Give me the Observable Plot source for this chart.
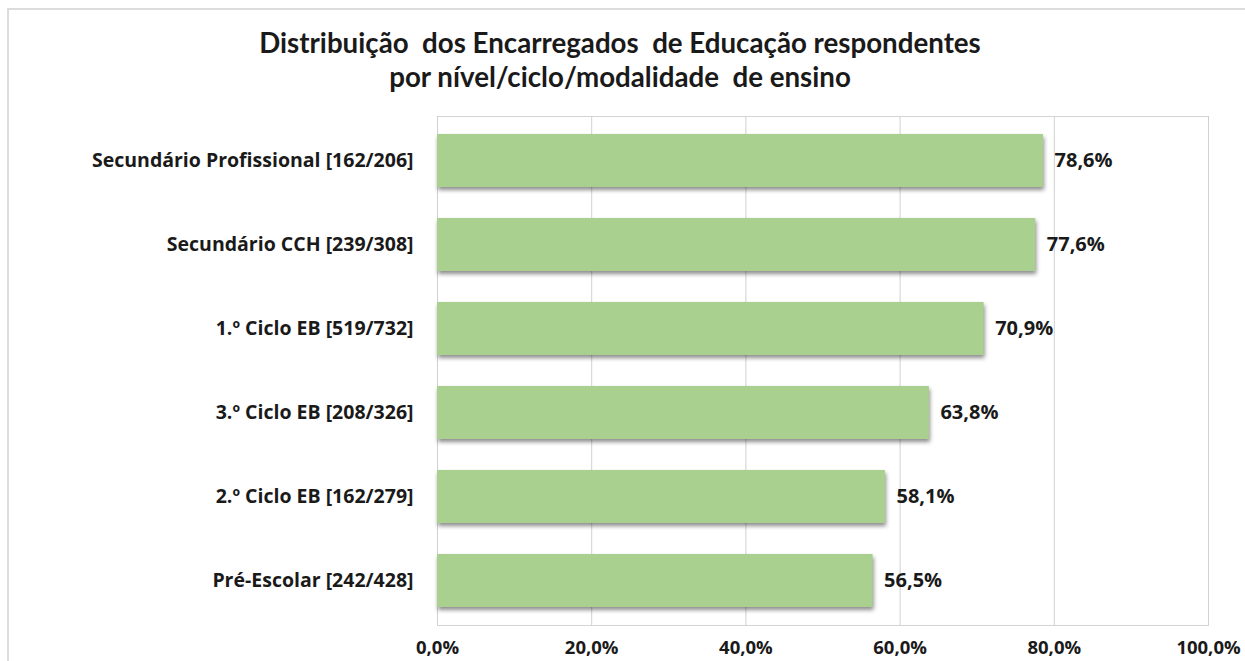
<!DOCTYPE html>
<html>
<head>
<meta charset="utf-8">
<script src="https://cdn.jsdelivr.net/npm/d3@7"></script>
<script src="https://cdn.jsdelivr.net/npm/@observablehq/plot@0.6"></script>
<style>
  html, body { margin: 0; padding: 0; background: #fff; overflow: hidden; }
  body { width: 1245px; height: 661px; position: relative; font-family: Lato, "Open Sans", sans-serif; }
  #frame { position: absolute; left: 7px; top: 8px; width: 1300px; height: 700px; border-top: 2px solid #dcdcdc; border-left: 2px solid #dcdcdc; box-sizing: border-box; }
  #title { position: absolute; left: 0; width: 1240px; top: 26px; text-align: center; font-weight: 700; font-size: 27.7px; line-height: 34px; color: #1a1a1a; }
  #chart { position: absolute; left: 0; top: 110px; }
</style>
</head>
<body>
<div id="frame"></div>
<div id="title">Distribuição&nbsp; dos Encarregados&nbsp; de Educação respondentes<br>por nível/ciclo/modalidade&nbsp; de ensino</div>
<div id="chart"></div>
<script>
const categories = [
  "Secundário Profissional [162/206]",
  "Secundário CCH [239/308]",
  "1.º Ciclo EB [519/732]",
  "3.º Ciclo EB [208/326]",
  "2.º Ciclo EB [162/279]",
  "Pré-Escolar [242/428]"
];
const values = [78.6, 77.6, 70.9, 63.8, 58.1, 56.5];
const ticks = [0, 20, 40, 60, 80, 100];

const data = categories.map((c, i) => ({category: c, value: values[i]}));
const fmt = v => v.toFixed(1).replace(".", ",") + "%";

const chart = Plot.plot({
  width: 1245,
  height: 551,
  marginLeft: 437,
  marginRight: 37,
  marginTop: 6,
  marginBottom: 36,
  style: {fontFamily: "'Open Sans', Lato, sans-serif", fontWeight: 700, color: "#1a1a1a", background: "transparent"},
  x: {domain: [0, 100], ticks: ticks, tickFormat: fmt, label: null},
  y: {domain: categories, paddingInner: 0.375, paddingOuter: 0.1875, label: null},
  marks: [
    Plot.frame({stroke: "#d4d4d4", strokeOpacity: 1}),
    Plot.gridX(ticks, {stroke: "#d0d0d0", strokeOpacity: 1}),
    Plot.barX(data, {x: "value", y: "category", fill: "#a9d08e"}),
    Plot.text(data, {x: "value", y: "category", text: d => fmt(d.value), textAnchor: "start", dx: 11, fontSize: 20, fontWeight: 700, fill: "#1a1a1a"}),
    Plot.axisX({ticks: ticks, tickFormat: fmt, tickSize: 0, tickPadding: 15, fontSize: 18.5, fontWeight: 700, label: null}),
    Plot.axisY({tickSize: 0, tickPadding: 24, fontSize: 19.5, fontWeight: 700, label: null})
  ]
});
document.getElementById("chart").appendChild(chart);
const bars = chart.querySelector('g[aria-label="bar"]');
if (bars) bars.style.filter = "drop-shadow(1px 3px 2px rgba(0,0,0,0.45))";
</script>
</body>
</html>
